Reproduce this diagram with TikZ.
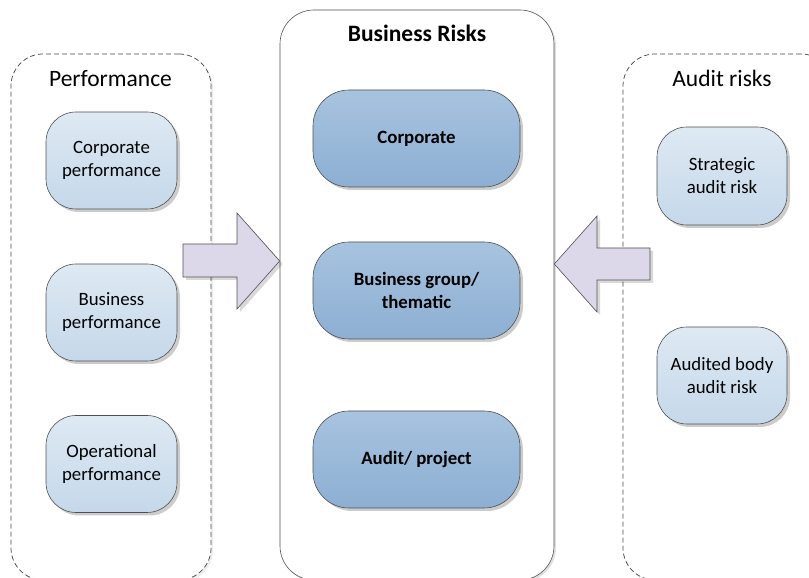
\documentclass[tikz,border=0pt]{standalone}
\usepackage{fontspec}
\setmainfont{Carlito}
\usetikzlibrary{shadows}
\definecolor{lbtop}{HTML}{DEE9F3}
\definecolor{lbbot}{HTML}{C5D8EA}
\definecolor{cbtop}{HTML}{A7C3DF}
\definecolor{cbbot}{HTML}{8DAFD3}
\definecolor{arrfill}{HTML}{DDD8E9}
\definecolor{edge}{HTML}{505050}
\tikzset{
  cont/.style={draw=black!70, line width=0.75pt, dash pattern=on 5pt off 3pt, rounded corners=32pt, inner sep=0pt,
    drop shadow={shadow xshift=2pt, shadow yshift=-2pt, opacity=0.07, fill=black}, fill=white},
  maincont/.style={draw=edge, line width=0.6pt, rounded corners=34pt, inner sep=0pt, fill=white,
    drop shadow={shadow xshift=2pt, shadow yshift=-2pt, opacity=0.12, fill=black}},
  lbox/.style={draw=edge, line width=0.6pt, rounded corners=30pt, inner sep=0pt, minimum width=131pt, minimum height=97pt,
    top color=lbtop, bottom color=lbbot, align=center, font=\fontsize{18.8}{23}\selectfont,
    drop shadow={shadow xshift=3pt, shadow yshift=-3pt, opacity=0.2, fill=black}},
  cbox/.style={draw=edge, line width=0.6pt, rounded corners=36pt, inner sep=0pt, minimum width=207pt, minimum height=97pt,
    top color=cbtop, bottom color=cbbot, align=center, font=\fontsize{18.8}{23}\selectfont\bfseries,
    drop shadow={shadow xshift=3pt, shadow yshift=-3pt, opacity=0.2, fill=black}},
  bigarrow/.style={draw=edge, line width=0.6pt, fill=arrfill, line join=miter,
    drop shadow={shadow xshift=3pt, shadow yshift=-3pt, opacity=0.15, fill=black}},
  title/.style={anchor=base, font=\fontsize{23.5}{28}\selectfont}
}
\begin{document}
\begin{tikzpicture}[x=1pt,y=1pt]
\useasboundingbox (0,0) rectangle (809,578);
% containers (y = 578 - ypx)
\node[cont, minimum width=200pt, minimum height=526pt] (perf) at (111,-2+263) {};
\node[cont, minimum width=210pt, minimum height=526pt] (audit) at (728,-2+263) {};
\node[maincont, minimum width=274pt, minimum height=570pt] (risks) at (417,-2+285) {};
% titles
\node[title] (tperf) at (110.5,491) {Performance};
\node[title] (taudit) at (722,491) {Audit risks};
\node[title, font=\fontsize{23.5}{28}\selectfont\bfseries] (trisks) at (417,536) {Business Risks};
% left boxes
\node[lbox] (cp) at (111.5,417.5) {Corporate\\performance};
\node[lbox] (bp) at (111.5,265.5) {Business\\performance};
\node[lbox] (op) at (111.5,114) {Operational\\performance};
% center boxes
\node[cbox] (cc) at (416.5,439.5) {Corporate};
\node[cbox] (cg) at (416.5,287.5) {Business group/\\thematic};
\node[cbox] (ca) at (416.5,118.5) {Audit/ project};
% right boxes
\node[lbox, minimum width=130pt, minimum height=98pt] (sa) at (722,402) {Strategic\\audit risk};
\node[lbox, minimum width=130pt, minimum height=97pt] (ab) at (722,202.5) {Audited body\\audit risk};
% block arrows
\coordinate (rtip) at (risks.west |- 0,317);
\coordinate (ltip) at (risks.east |- 0,314);
\draw[bigarrow] (183,334) -- (237,334) -- (237,365) -- (rtip) -- (237,269) -- (237,301) -- (183,301) -- cycle;
\draw[bigarrow] (650,330) -- (597,330) -- (597,362) -- (ltip) -- (597,266) -- (597,298) -- (650,298) -- cycle;
\end{tikzpicture}
\end{document}
